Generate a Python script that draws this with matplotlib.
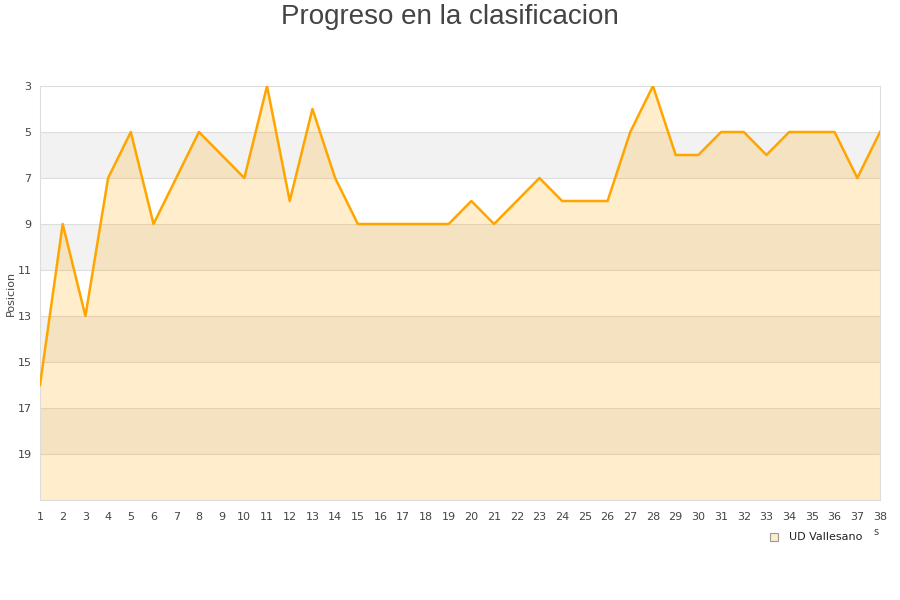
import numpy as np
import matplotlib.pyplot as plt
from matplotlib.patches import Rectangle

jornadas = list(range(1, 39))
posiciones = [16, 9, 13, 7, 5, 9, 7, 5, 6, 7, 3, 8, 4, 7, 9, 9, 9, 9, 9, 8,
              9, 8, 7, 8, 8, 8, 5, 3, 6, 6, 5, 5, 6, 5, 5, 5, 7, 5]
yticks = [3, 5, 7, 9, 11, 13, 15, 17, 19]
equipo = 'UD Vallesano'

fig = plt.figure(figsize=(9, 6), dpi=100)
ax = fig.add_axes([40 / 900, 100 / 600, 840 / 900, 414 / 600])

# alternating background bands
for i, lo in enumerate(range(3, 21, 2)):
    if i % 2 == 1:
        ax.axhspan(lo, lo + 2, color='#f2f2f2', zorder=0, lw=0)
for y in range(5, 21, 2):
    ax.axhline(y, color='#dddddd', lw=0.8, zorder=1)

ax.fill_between(jornadas, posiciones, 21, color='#ffa500', alpha=0.2, lw=0, zorder=2)
ax.plot(jornadas, posiciones, color='#ffa500', lw=1.8, zorder=3)

ax.set_xlim(1, 38)
ax.set_ylim(21, 3)
ax.set_xticks(jornadas)
ax.set_yticks(yticks)
ax.tick_params(axis='x', length=0, labelsize=8, colors='#444444', pad=9)
ax.tick_params(axis='y', length=0, labelsize=8, colors='#444444', pad=6)
for s in ax.spines.values():
    s.set_color('#dddddd')
ax.set_ylabel('Posicion', fontsize=8, color='#444444')
ax.yaxis.set_label_coords(-24 / 840, 0.5)

fig.text(0.5, 1 - 17 / 600, 'Progreso en la clasificacion', ha='center', va='center',
         fontsize=20, color='#444444', family='Liberation Sans')

fig.patches.append(Rectangle((770 / 900, 1 - 541 / 600), 8 / 900, 8 / 600,
                             transform=fig.transFigure, facecolor='#fdeccb',
                             edgecolor='#999999', lw=0.8))
fig.text(789 / 900, 1 - 537 / 600, equipo, ha='left', va='center',
         fontsize=8, color='#222222')
fig.text(876 / 900, 1 - 532 / 600, 's', ha='center', va='center',
         fontsize=7, color='#444444')

fig.savefig('out.png', dpi=100)
